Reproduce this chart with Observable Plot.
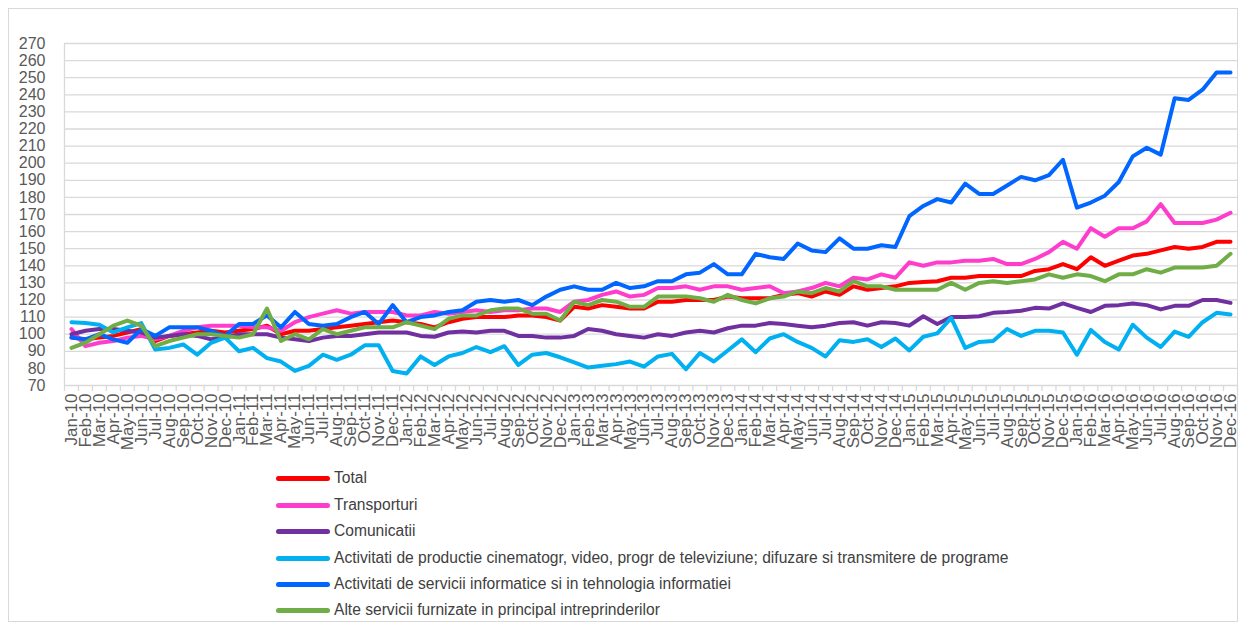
<!DOCTYPE html>
<html>
<head>
<meta charset="utf-8">
<script src="https://cdn.jsdelivr.net/npm/d3@7"></script>
<script src="https://cdn.jsdelivr.net/npm/@observablehq/plot@0.6"></script>
<style>
  html, body { margin: 0; padding: 0; background: #fff; }
  #wrap { position: relative; width: 1240px; height: 625px; overflow: hidden; font-family: "Liberation Sans", Arial, sans-serif; }
  #frame { position: absolute; left: 8px; top: 8px; width: 1230px; height: 614px; border: 1px solid #d9d9d9; box-sizing: border-box; }
  #chart { position: absolute; left: 0; top: 0; }
  .leg { position: absolute; left: 276px; height: 20px; display: flex; align-items: center; font-size: 15.6px; color: #404040; white-space: nowrap; }
  .leg .sw { width: 54px; height: 5px; border-radius: 3px; margin-right: 4px; }
</style>
</head>
<body>
<div id="wrap">
  <div id="frame"></div>
  <div id="chart"></div>
  <div id="legend"></div>
</div>
<script>
// ---- data ----
const monthNames = ["Jan","Feb","Mar","Apr","May","Jun","Jul","Aug","Sep","Oct","Nov","Dec"];
const years = ["10","11","12","13","14","15","16"];
const yTicks = [70,80,90,100,110,120,130,140,150,160,170,180,190,200,210,220,230,240,250,260,270];

const seriesNames = [
  "Total",
  "Transporturi",
  "Comunicatii",
  "Activitati de productie cinematogr, video, progr de televiziune; difuzare si transmitere de programe",
  "Activitati de servicii informatice si in tehnologia informatiei",
  "Alte servicii furnizate in principal intreprinderilor"
];
const seriesColors = ["#FF0000", "#FF3DCC", "#7030A0", "#00B0F0", "#0066FF", "#70AD47"];

const total = [98,97,98,99,101,103,96,99,100,101,102,101,
  102,103,105,100,102,102,103,104,105,106,107,108,
  107,106,104,107,109,110,110,110,111,111,110,108,
  116,115,117,116,115,115,119,119,120,120,120,122,
  121,121,121,123,124,122,125,123,128,126,127,128,
  130,130.5,131,133,133,134,134,134,134,137,138,141,
  138,145,140,143,146,147,149,151,150,151,154,154];

const transporturi = [103,93,95,96,98,99,97,99,102,104,105,105,
  105,104,104,102,107,110,112,114,112,113,113,113,
  111,111,113,112,113,114,113,114,114,115,115,113,
  119,120,123,125,122,123,127,127,128,126,128,128,
  126,127,128,124,125,127,130,128,133,132,135,133,
  142,140,142,142,143,143,144,141,141,144,148,154,
  150,162,157,162,162,166,176,165,165,165,167,171];

const comunicatii = [100,102,103,103,102,101,98,99,100,99,97,98,
  100,100,100,98,97,96,98,99,99,100,101,101,
  101,99,98.5,101,101.6,101,102,102,99,99,98,98,
  99,103,102,100,99,98,100,99,101,102,101,103.5,
  105,105,106.6,106,105,104,105,106.6,107,105,107,106.6,
  105,110.5,106,110,110,110.5,112.5,113,113.7,115.4,115,118,
  115.4,113,116.6,117,118,117,114.5,116.6,116.6,120,120,118.3];

const cinematografie = [107,106.5,105.5,101,104,106.5,91,92,94,88,95,98,
  90,92,86,84,78.5,81.5,88,85,88,93.5,93.5,78.5,
  77,87,82,87,89,92.5,89.5,93,82,88,89,86.5,
  83.5,80.5,81.5,82.5,84,81,87,88.5,79.5,89,84,90.5,
  97,89.5,97.5,100,95.5,92,87,96.5,95.5,97,92.5,97.5,
  90.5,98.5,100.5,109.5,92,95.5,96,103,99,102,102,101,
  88,102.5,95.5,91,105.5,98,92.5,101.5,98.5,107,112.5,111.5];

const informatice = [98,97,100,97,95,103,99,104,104,104,102,99,
  106,106,111,104,113,106,105,106,110,113,106,117,
  107,110,111,113,114,119,120,119,120,117,122,126,
  128,126,126,130,127,128,131,131,135,136,141,135,
  135,147,145,144,153,149,148,156,150,150,152,151,
  169,175,179,177,188,182,182,187,192,190,193,202,
  174,177,181,189,204,209,205,238,237,243,253,253];

const alteServicii = [92,95,100,105,108,105,93,96,98,100,100,99,
  98,100,115,96,100,97,103,100,102,104,104,104,
  107,105,103,109,111,111,114,115,115,112,112,108,
  119,117,120,119,116,116,122,122,122,121,119,123,
  120,118,121,122,125,124,127,125,131,128,128,126,
  126,126,126,130,126,130,131,130,131,132,135,133,
  135,134,131,135,135,138,136,139,139,139,140,147];

// ---- build ----
const labels = years.flatMap(y => monthNames.map(m => `${m}-${y}`));
const seriesValues = [total, transporturi, comunicatii, cinematografie, informatice, alteServicii];
const rows = seriesValues.flatMap((vals, s) => vals.map((v, i) => ({i, v, s: seriesNames[s]})));
const idx = labels.map((_, i) => i);
const bounds = d3.range(labels.length + 1).map(i => i - 0.5);

const chart = Plot.plot({
  width: 1240,
  height: 470,
  marginTop: 43,
  marginLeft: 64,
  marginRight: 3,
  marginBottom: 85,
  style: {fontFamily: "'Liberation Sans', Arial, sans-serif", fontSize: "16px", color: "#595959", background: "transparent", overflow: "visible"},
  x: {type: "linear", domain: [-0.5, labels.length - 0.5], axis: null},
  y: {domain: [70, 270], axis: null},
  color: {domain: seriesNames, range: seriesColors},
  marks: [
    Plot.gridY(yTicks, {stroke: "#d9d9d9", strokeOpacity: 1, strokeWidth: 1.3}),
    Plot.ruleX([-0.5], {stroke: "#d9d9d9", strokeWidth: 1.3}),
    Plot.axisY(yTicks, {tickSize: 0, tickPadding: 19, fill: "#595959", fontSize: 16, label: null}),
    Plot.axisX(bounds, {tickSize: 6, tickFormat: () => "", stroke: "#d9d9d9", strokeWidth: 1.3, label: null}),
    Plot.axisX(idx, {tickSize: 0, tickPadding: 8, tickRotate: -90, tickFormat: i => labels[i], fill: "#595959", fontSize: 17, label: null}),
    Plot.line(rows, {x: "i", y: "v", z: "s", stroke: "s", strokeWidth: 4, strokeLinejoin: "round", strokeLinecap: "round"})
  ]
});
document.getElementById("chart").appendChild(chart);

// legend
const legTops = [468, 495, 521, 548, 574, 600];
const leg = document.getElementById("legend");
seriesNames.forEach((name, k) => {
  const d = document.createElement("div");
  d.className = "leg";
  d.style.top = legTops[k] + "px";
  d.innerHTML = `<span class="sw" style="background:${seriesColors[k]}"></span><span>${name}</span>`;
  leg.appendChild(d);
});
</script>
</body>
</html>
